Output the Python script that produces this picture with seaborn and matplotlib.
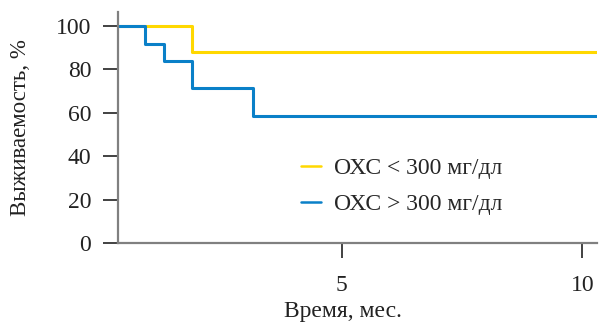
import pandas as pd
import matplotlib
matplotlib.use("Agg")
import matplotlib.pyplot as plt
import seaborn as sns

# survival steps
low_time = [0, 1.89, 10.3]
low_surv = [100, 88.2, 88.2]
high_time = [0, 0.91, 1.31, 1.89, 3.15, 10.3]
high_surv = [100, 91.7, 83.9, 71.4, 58.5, 58.5]
groups = ["ОХС < 300 мг/дл", "ОХС > 300 мг/дл"]
colors = ["#FFD800", "#0A80C8"]
y_ticks = [0, 20, 40, 60, 80, 100]
x_ticks = [5, 10]

df = pd.concat([
    pd.DataFrame({"time": low_time, "surv": low_surv, "group": groups[0]}),
    pd.DataFrame({"time": high_time, "surv": high_surv, "group": groups[1]}),
])

sns.set_style("ticks")
plt.rcParams["font.family"] = ["Liberation Serif", "DejaVu Serif"]

fig = plt.figure(figsize=(6.07, 3.23), dpi=100)
ax = fig.add_axes([0.194, 0.248, 0.789, 0.715])

sns.lineplot(data=df, x="time", y="surv", hue="group", estimator=None,
             drawstyle="steps-post", palette=colors, linewidth=2.2, ax=ax)

ax.set_xlim(0.35, 10.3)
ax.set_ylim(0, 106.5)
ax.set_xticks(x_ticks)
ax.set_yticks(y_ticks)
ax.tick_params(labelsize=17, length=11, width=1.3, color="#333333",
               labelcolor="#222222", direction="out")
ax.tick_params(axis="x", pad=12)
ax.tick_params(axis="y", pad=8)
for side in ["top", "right"]:
    ax.spines[side].set_visible(False)
for side in ["left", "bottom"]:
    ax.spines[side].set_color("#808080")
    ax.spines[side].set_linewidth(1.6)

ax.set_xlabel("Время, мес.", fontsize=17, color="#222222")
ax.set_ylabel("Выживаемость, %", fontsize=16.5, color="#222222")
ax.xaxis.set_label_coords(0.47, -0.25)
ax.yaxis.set_label_coords(-0.182, 0.5)

leg = ax.legend(loc="center left", bbox_to_anchor=(0.339, 0.245), frameon=False,
                fontsize=17, handlelength=0.85, handletextpad=0.55,
                labelspacing=0.62)
for line in leg.get_lines():
    line.set_linewidth(1.8)

fig.savefig("out.png", dpi=100)
